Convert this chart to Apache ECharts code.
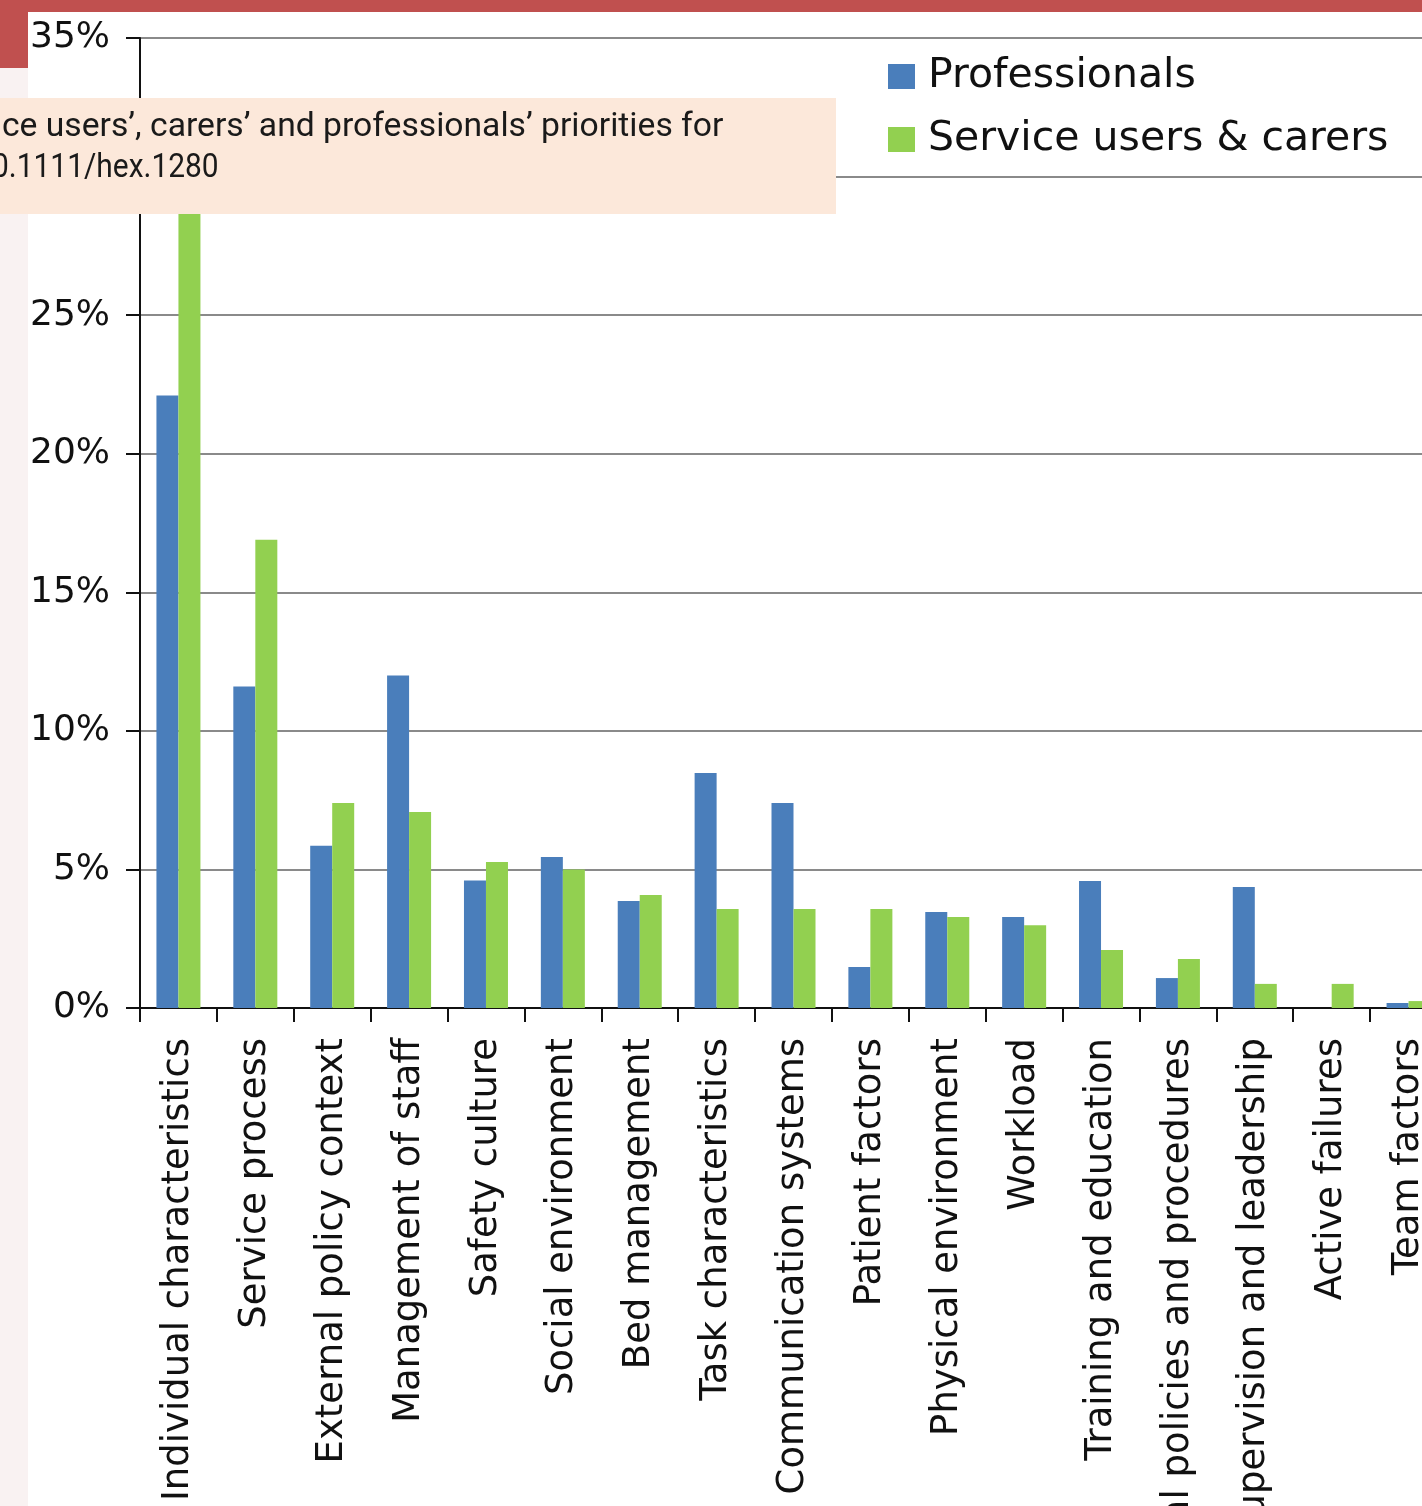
<!DOCTYPE html>
<html>
<head>
<meta charset="utf-8">
<script src="https://cdn.jsdelivr.net/npm/echarts@6/dist/echarts.min.js"></script>
<style>
html,body{margin:0;padding:0;background:#fff;}
#chart{width:1422px;height:1506px;}
</style>
</head>
<body>
<div id="chart"></div>
<script>
const categories = [
  "Individual characteristics",
  "Service process",
  "External policy context",
  "Management of staff",
  "Safety culture",
  "Social environment",
  "Bed management",
  "Task characteristics",
  "Communication systems",
  "Patient factors",
  "Physical environment",
  "Workload",
  "Training and education",
  "Local policies and procedures",
  "Supervision and leadership",
  "Active failures",
  "Team factors"
];
const professionals = [22.1, 11.6, 5.85, 12.0, 4.6, 5.45, 3.86, 8.48, 7.4, 1.48, 3.46, 3.28, 4.58, 1.08, 4.37, 0, 0.18];
const serviceUsers = [31.0, 16.9, 7.4, 7.07, 5.27, 5.0, 4.08, 3.57, 3.57, 3.57, 3.28, 2.99, 2.09, 1.77, 0.87, 0.87, 0.25];
const seriesNames = ["Professionals", "Service users & carers"];
const overlayLines = ["ce users’, carers’ and professionals’ priorities for", "0.1111/hex.1280"];

const chart = echarts.init(document.getElementById('chart'));
const font = "DejaVu Sans";
chart.setOption({
  animation: false,
  backgroundColor: '#ffffff',
  grid: {left: 140, top: 38, width: 1307, height: 970, containLabel: false, outerBoundsMode: 'none'},
  legend: {
    orient: 'vertical',
    left: 883, top: 51,
    itemWidth: 27, itemHeight: 25, itemGap: 22,
    icon: 'rect',
    textStyle: {fontFamily: font, fontSize: 41, color: '#111', padding: [0, 0, 0, 8]},
    data: seriesNames
  },
  xAxis: {
    type: 'category',
    data: categories,
    axisLine: {lineStyle: {color: '#111', width: 2}},
    axisTick: {show: true, length: 14, lineStyle: {color: '#111', width: 2}},
    axisLabel: {rotate: 90, interval: 0, margin: 30, fontFamily: font, fontSize: 37, color: '#111'}
  },
  yAxis: {
    type: 'value', min: 0, max: 35, interval: 5,
    axisLine: {show: true, lineStyle: {color: '#111', width: 2}},
    axisTick: {show: true, length: 14, lineStyle: {color: '#111', width: 2}},
    axisLabel: {formatter: '{value}%', margin: 30, fontFamily: font, fontSize: 36, color: '#111'},
    splitLine: {show: true, lineStyle: {color: '#8a8a8a', width: 2}}
  },
  series: [
    {name: seriesNames[0], type: 'bar', data: professionals, barWidth: 22, barGap: '0%', itemStyle: {color: '#4a7ebb'}},
    {name: seriesNames[1], type: 'bar', data: serviceUsers, barWidth: 22, itemStyle: {color: '#92d050'}}
  ],
  graphic: [
    {type: 'rect', z: 100, shape: {x: 0, y: 0, width: 1422, height: 12}, style: {fill: '#c0504f'}},
    {type: 'rect', z: 100, shape: {x: 0, y: 0, width: 28, height: 68}, style: {fill: '#c0504f'}},
    {type: 'rect', z: 100, shape: {x: 0, y: 68, width: 28, height: 1438}, style: {fill: '#f9f2f2'}},
    {type: 'rect', z: 100, shape: {x: 0, y: 98, width: 836, height: 116}, style: {fill: '#fce8da'}},
    {type: 'text', z: 101, x: 2, y: 127, scaleX: 0.99, style: {text: overlayLines[0], font: '34px Roboto', fill: '#1a1a1a', textVerticalAlign: 'middle'}},
    {type: 'text', z: 101, x: -8, y: 168, scaleX: 0.88, style: {text: overlayLines[1], font: '34px Roboto', fill: '#1a1a1a', textVerticalAlign: 'middle'}}
  ]
});
</script>
</body>
</html>
